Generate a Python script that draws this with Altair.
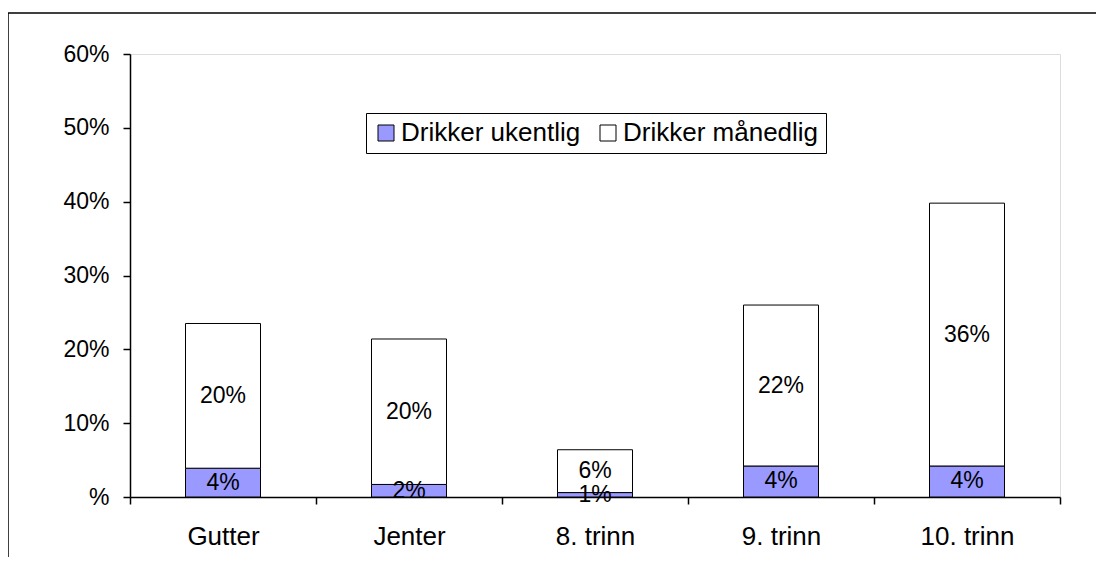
import altair as alt
import pandas as pd

categories = ["Gutter", "Jenter", "8. trinn", "9. trinn", "10. trinn"]
weekly = [3.9, 1.7, 0.6, 4.2, 4.2]
monthly = [19.6, 19.7, 5.8, 21.8, 35.6]
series_names = ["Drikker ukentlig", "Drikker månedlig"]
series_colors = ["#9999FF", "#FFFFFF"]
y_ticks = [0, 10, 20, 30, 40, 50, 60]

rows = []
for c, w, m in zip(categories, weekly, monthly):
    rows.append({"cat": c, "series": series_names[0], "value": w, "ord": 0})
    rows.append({"cat": c, "series": series_names[1], "value": m, "ord": 1})
df = pd.DataFrame(rows)

FONT = "Liberation Sans"

base = alt.Chart(df).transform_stack(
    stack="value",
    groupby=["cat"],
    as_=["y0", "y1"],
    sort=[alt.SortField("ord", order="ascending")],
)

x_enc = alt.X(
    "cat:N",
    sort=categories,
    scale=alt.Scale(paddingInner=0, paddingOuter=0),
    axis=alt.Axis(
        title=None,
        labelAngle=0,
        labelFont=FONT,
        labelFontSize=26,
        labelColor="black",
        labelBaseline="alphabetic",
        labelPadding=40,
        tickBand="extent",
        tickSize=7,
        tickColor="black",
        tickWidth=1.5,
        domainColor="black",
        domainWidth=1.5,
    ),
)

y_scale = alt.Scale(domain=[0, 60], nice=False)

bars = base.mark_bar(width=75, stroke="black", strokeWidth=1).encode(
    x=x_enc,
    y=alt.Y(
        "y0:Q",
        scale=y_scale,
        axis=alt.Axis(
            title=None,
            values=y_ticks,
            labelExpr="datum.value == 0 ? '%' : datum.value + '%'",
            labelFont=FONT,
            labelFontSize=23,
            labelColor="black",
            labelBaseline="middle",
            labelPadding=14,
            tickSize=7,
            tickColor="black",
            tickWidth=1.5,
            domainColor="black",
            domainWidth=1.5,
            grid=False,
        ),
    ),
    y2="y1:Q",
    fill=alt.Fill(
        "series:N",
        scale=alt.Scale(domain=series_names, range=series_colors),
        legend=alt.Legend(
            title=None,
            orient="none",
            legendX=236,
            legendY=59,
            direction="horizontal",
            strokeColor="black",
            fillColor="white",
            padding=7,
            labelFont=FONT,
            labelFontSize=26,
            labelColor="black",
            labelLimit=400,
            labelOffset=2,
            columnPadding=14,
            symbolType="square",
            symbolSize=256,
            symbolStrokeColor="black",
            symbolStrokeWidth=1,
        ),
    ),
)

labels = base.transform_calculate(
    mid="(datum.y0 + datum.y1) / 2",
    lab="round(datum.value) + '%'",
).mark_text(font=FONT, fontSize=23, color="black", baseline="middle").encode(
    x=alt.X("cat:N", sort=categories),
    y=alt.Y("mid:Q", scale=y_scale),
    text="lab:N",
)

frame = alt.Chart(alt.Data(values=[{"a": 1}])).mark_rect(
    fill="transparent", stroke="black", strokeWidth=1.5
).encode(
    x=alt.value(-122), x2=alt.value(1200), y=alt.value(-41), y2=alt.value(700)
)

chart = alt.layer(frame, bars, labels).properties(
    width=930,
    height=443,
    autosize=alt.AutoSizeParams(type="none"),
    padding={"left": 122, "top": 46, "right": 36, "bottom": 60},
).configure_view(
    stroke="#808080", strokeWidth=2
).configure(background="white")

chart.save("out.html", embed_options={"renderer": "svg", "actions": False})
